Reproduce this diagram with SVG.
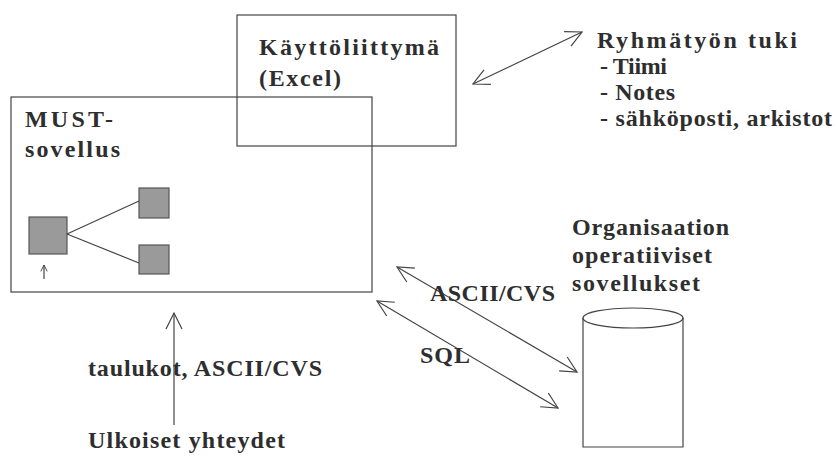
<svg xmlns="http://www.w3.org/2000/svg" width="836" height="459" viewBox="0 0 836 459">
<style>
  text { font-family: "Liberation Serif", "Times New Roman", serif; font-weight: bold; font-size: 24px; fill: #2e2e2e; }
  .box { fill: none; stroke: #444; stroke-width: 1.2; }
  .sq { fill: #9a9a9a; stroke: #555; stroke-width: 1.2; }
  .ln { fill: none; stroke: #444; stroke-width: 1.2; }
</style>
<defs>
  <marker id="open" viewBox="0 0 20 20" refX="18" refY="10" markerWidth="20" markerHeight="20" markerUnits="userSpaceOnUse" orient="auto-start-reverse">
    <path d="M2,2 L18,10 L2,18" fill="none" stroke="#444" stroke-width="1.2"/>
  </marker>
  <marker id="small" viewBox="0 0 10 10" refX="9" refY="5" markerWidth="8" markerHeight="8" markerUnits="userSpaceOnUse" orient="auto">
    <path d="M1,1 L9,5 L1,9" fill="none" stroke="#444" stroke-width="1.2"/>
  </marker>
</defs>
<rect width="836" height="459" fill="#fff"/>
<g id="must">
  <rect class="box" x="11" y="97" width="361" height="195"/>
  <text x="25" y="127" textLength="88" lengthAdjust="spacing">MUST-</text>
  <text x="25" y="157" textLength="95" lengthAdjust="spacing">sovellus</text>
  <rect class="sq" x="29" y="217" width="38" height="37"/>
  <rect class="sq" x="139" y="188" width="30" height="30"/>
  <rect class="sq" x="139" y="245" width="30" height="29"/>
  <line class="ln" x1="67" y1="234" x2="139" y2="201"/>
  <line class="ln" x1="67" y1="234" x2="139" y2="263"/>
  <line class="ln" x1="44" y1="279" x2="44" y2="265" marker-end="url(#small)"/>
</g>
<g id="ui">
  <rect class="box" x="237" y="15" width="219" height="131"/>
  <text x="259" y="55" textLength="180" lengthAdjust="spacing">Käyttöliittymä</text>
  <text x="259" y="86" textLength="82" lengthAdjust="spacing">(Excel)</text>
</g>
<g id="group">
  <text x="597" y="48" textLength="200" lengthAdjust="spacing">Ryhmätyön tuki</text>
  <text x="600" y="74" textLength="67" lengthAdjust="spacing">- Tiimi</text>
  <text x="600" y="100" textLength="75" lengthAdjust="spacing">- Notes</text>
  <text x="600" y="126" textLength="232" lengthAdjust="spacing">- sähköposti, arkistot</text>
</g>
<g id="db">
  <text x="572" y="235" textLength="157" lengthAdjust="spacing">Organisaation</text>
  <text x="572" y="263" textLength="140" lengthAdjust="spacing">operatiiviset</text>
  <text x="572" y="291" textLength="128" lengthAdjust="spacing">sovellukset</text>
  <path class="box" d="M583,318 L583,447 L683,447 L683,318"/>
  <ellipse class="box" cx="633" cy="318" rx="50" ry="10"/>
</g>
<g id="external">
  <text x="88" y="448" textLength="197" lengthAdjust="spacing">Ulkoiset yhteydet</text>
</g>
<g id="connectors">
  <line class="ln" x1="473" y1="84" x2="582" y2="32" marker-start="url(#open)" marker-end="url(#open)"/>
  <line class="ln" x1="397" y1="267" x2="577" y2="372" marker-start="url(#open)" marker-end="url(#open)"/>
  <line class="ln" x1="377" y1="301" x2="558" y2="408" marker-start="url(#open)" marker-end="url(#open)"/>
  <line class="ln" x1="174" y1="425" x2="174" y2="313" marker-end="url(#open)"/>
  <text x="430" y="301" textLength="125" lengthAdjust="spacing">ASCII/CVS</text>
  <text x="420" y="363" textLength="50" lengthAdjust="spacing">SQL</text>
  <text x="88" y="376" textLength="234" lengthAdjust="spacing">taulukot, ASCII/CVS</text>
</g>
</svg>
